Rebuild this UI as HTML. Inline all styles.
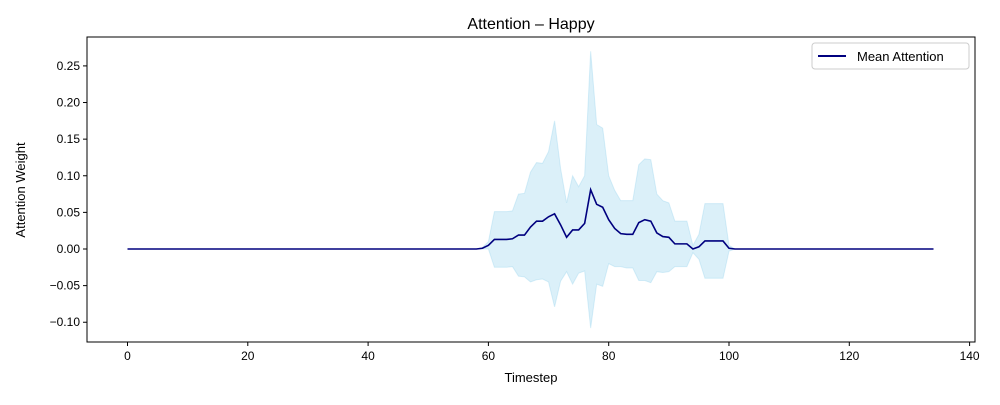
<!DOCTYPE html>
<html><head><meta charset="utf-8"><style>
body{margin:0;background:#fff;}
svg text{font-family:"Liberation Sans","DejaVu Sans",sans-serif;fill:#000;}
</style></head><body>
<svg id="chart" width="1000" height="400" viewBox="0 0 1000 400" xmlns="http://www.w3.org/2000/svg">
<rect width="1000" height="400" fill="#fff"/>
<text x="531" y="29" font-size="16" text-anchor="middle">Attention – Happy</text>
<g id="plot"></g>
<text x="531" y="382" font-size="13" text-anchor="middle">Timestep</text>
<text x="25" y="190" font-size="13" text-anchor="middle" transform="rotate(-90 25 190)">Attention Weight</text>
<g>
<rect x="812" y="43" width="157" height="26" rx="3" fill="#fff" stroke="#ccc"/>
<line x1="818" y1="56" x2="846" y2="56" stroke="#00007f" stroke-width="2"/>
<text x="857" y="61" font-size="13">Mean Attention</text>
</g>
</svg>
<script>
const meanVals=[0,0,0,0,0,0,0,0,0,0,0,0,0,0,0,0,0,0,0,0,0,0,0,0,0,0,0,0,0,0,0,0,0,0,0,0,0,0,0,0,0,0,0,0,0,0,0,0,0,0,0,0,0,0,0,0,0,0,
0,0.001,0.005,0.013,0.013,0.013,0.014,0.019,0.019,0.03,0.038,0.038,0.044,0.048,0.033,0.016,0.026,0.026,0.035,0.081,0.061,0.057,0.04,0.028,0.021,0.02,0.02,0.036,0.04,0.038,0.022,0.017,0.016,0.007,0.007,0.007,0,0.003,0.011,0.011,0.011,0.011,0.001,
0,0,0,0,0,0,0,0,0,0,0,0,0,0,0,0,0,0,0,0,0,0,0,0,0,0,0,0,0,0,0,0,0,0];
const stdVals=[0,0,0,0,0,0,0,0,0,0,0,0,0,0,0,0,0,0,0,0,0,0,0,0,0,0,0,0,0,0,0,0,0,0,0,0,0,0,0,0,0,0,0,0,0,0,0,0,0,0,0,0,0,0,0,0,0,0,
0,0.001,0.005,0.038,0.038,0.038,0.038,0.056,0.057,0.075,0.08,0.079,0.089,0.127,0.077,0.047,0.074,0.059,0.065,0.189,0.109,0.108,0.06,0.052,0.045,0.046,0.046,0.079,0.083,0.084,0.053,0.049,0.047,0.031,0.031,0.031,0.005,0.017,0.051,0.051,0.051,0.051,0.004,
0,0,0,0,0,0,0,0,0,0,0,0,0,0,0,0,0,0,0,0,0,0,0,0,0,0,0,0,0,0,0,0,0,0];
const xTicks=[0,20,40,60,80,100,120,140];
const yTicks=[-0.10,-0.05,0.00,0.05,0.10,0.15,0.20,0.25];
const yTickLabels=["−0.10","−0.05","0.00","0.05","0.10","0.15","0.20","0.25"];

const L=87,R=975,T=37,B=342;
const xs=t=>127.5+t*6.015;
const ys=v=>249-v*732.4;
const NS="http://www.w3.org/2000/svg";
const g=document.getElementById('plot');
function mk(tag,attrs){const e=document.createElementNS(NS,tag);for(const k in attrs)e.setAttribute(k,attrs[k]);g.appendChild(e);return e;}

let up=[],lo=[];
meanVals.forEach((m,i)=>{up.push(xs(i).toFixed(2)+','+ys(m+stdVals[i]).toFixed(2));lo.push(xs(i).toFixed(2)+','+ys(m-stdVals[i]).toFixed(2));});
const band=mk('polygon',{points:up.concat(lo.reverse()).join(' '),fill:'#87ceeb','fill-opacity':'0.3',stroke:'#87ceeb','stroke-opacity':'0.3','stroke-width':'1'});


const line=mk('polyline',{points:meanVals.map((m,i)=>xs(i).toFixed(2)+','+ys(m).toFixed(2)).join(' '),fill:'none',stroke:'#00007f','stroke-width':'1.6'});


const frame=mk('rect',{x:L,y:T,width:R-L,height:B-T,fill:'none',stroke:'#000','stroke-width':'1'});


xTicks.forEach(t=>{
  const x=xs(t);
  const tk=mk('line',{x1:x,y1:B,x2:x,y2:B+4,stroke:'#000'});
  
  
  const tx=mk('text',{x:x,y:B+18,'font-size':'12','text-anchor':'middle'});
  tx.textContent=t;
  
  
});
yTicks.forEach((v,i)=>{
  const y=ys(v);
  const tk=mk('line',{x1:L-4,y1:y,x2:L,y2:y,stroke:'#000'});
  
  
  const tx=mk('text',{x:L-7,y:y+4,'font-size':'12','text-anchor':'end'});
  tx.textContent=yTickLabels[i];
  
  
});
</script>
</body></html>
